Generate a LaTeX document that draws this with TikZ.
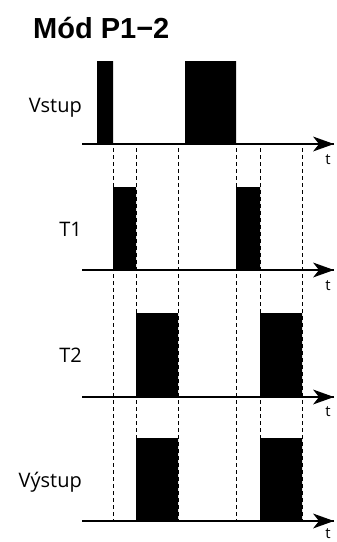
\documentclass[tikz,border=0pt]{standalone}
\usepackage{fontspec}
\setmainfont{Open Sans}
\newfontfamily\titlefont{Liberation Sans}
\usepackage{tikz}

\tikzset{
  axis/.style={line width=1.8pt},
  guide/.style={line width=0.9pt,dash pattern=on 4pt off 3pt},
  lbl/.style={anchor=base east,inner sep=0pt,font=\fontsize{20}{24}\selectfont},
  tlbl/.style={inner sep=0pt,font=\fontsize{15}{18}\selectfont}
}
% arrow head at the end of a time axis
\newcommand{\axhead}[1]{\fill (#1) -- ++(-21,-7.5) -- ++(6,7.5) -- ++(-6,7.5) -- cycle;}

\begin{document}
\begin{tikzpicture}[x=1pt,y=-1pt]
            \useasboundingbox (0,0) rectangle (337,542);
            \node[anchor=base west,inner sep=0pt,font=\titlefont\bfseries\fontsize{29}{32}\selectfont] (title) at (33,38) {Mód P1−2};
            % dashed guides
            \foreach \x in {113,136,178,236,260,302}
                \draw[guide] (\x,148) -- (\x,521);
            % Vstup
            \fill (97,61) rectangle (113,144) (185,61) rectangle (236,144);
            \node[lbl] (vin) at (82,112) {Vstup};
            \coordinate (a0) at (82,144);
            \coordinate (a1) at (334,144);
            \draw[axis] (a0) -- (a1);
            \axhead{a1}
            \node[tlbl] (t0) at (328,160) {t};
            % T1
            \fill (113,187) rectangle (136,270) (236,187) rectangle (260,270);
            \node[lbl] (tone) at (82,236) {T1};
            \coordinate (b0) at (82,270);
            \coordinate (b1) at (334,270);
            \draw[axis] (b0) -- (b1);
            \axhead{b1}
            \node[tlbl] (t1) at (328,286) {t};
            % T2
            \fill (136,313) rectangle (178,397) (260,313) rectangle (302,397);
            \node[lbl] (ttwo) at (82,362) {T2};
            \coordinate (c0) at (82,397);
            \coordinate (c1) at (334,397);
            \draw[axis] (c0) -- (c1);
            \axhead{c1}
            \node[tlbl] (t2) at (328,412) {t};
            % Vystup
            \fill (136,438) rectangle (178,521) (260,438) rectangle (302,521);
            \node[lbl] (vout) at (82,487) {Výstup};
            \coordinate (d0) at (82,521);
            \coordinate (d1) at (334,521);
            \draw[axis] (d0) -- (d1);
            \axhead{d1}
            \node[tlbl] (t3) at (328,534) {t};
        \end{tikzpicture}
\end{document}
